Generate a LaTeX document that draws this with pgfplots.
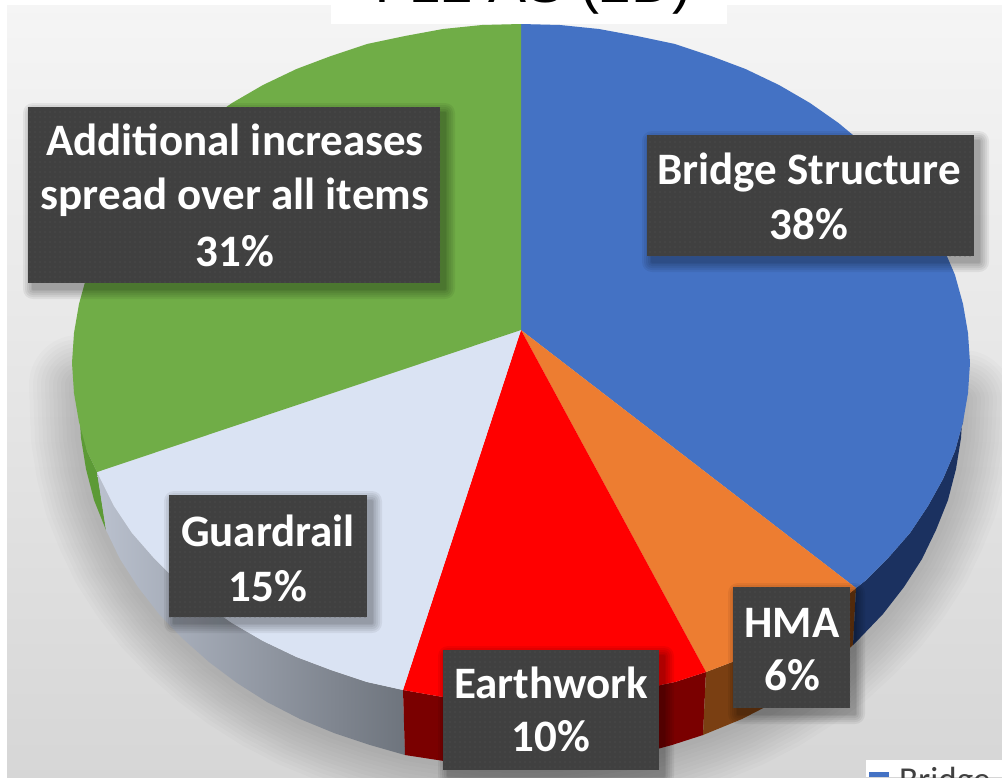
\documentclass[border=0pt]{standalone}
\usepackage{fontspec}
\setmainfont{Carlito}
\newfontfamily\titlefont{Liberation Sans}
\usepackage{pgfplots}
\pgfplotsset{compat=1.18}
\usetikzlibrary{patterns.meta}

\definecolor{pieblue}{HTML}{4472C4}
\definecolor{pieorange}{HTML}{ED7D31}
\definecolor{piered}{HTML}{FF0000}
\definecolor{pieguard}{HTML}{DAE3F3}
\definecolor{piegreen}{HTML}{70AD47}
\definecolor{sideblue}{HTML}{1B3160}
\definecolor{sideorange}{HTML}{7A3F12}
\definecolor{sidered}{HTML}{7A0000}
\definecolor{sidegreen}{HTML}{5C9A36}
\definecolor{boxgrey}{HTML}{404040}
\definecolor{dotgrey}{HTML}{555555}
\definecolor{wallleft}{HTML}{BAC1CE}
\definecolor{wallright}{HTML}{6E747D}

% Lower rim of the disc, used for the soft cast shadow
\pgfplotstableread{
x y
963 400
961 438
956 469
948 500
936 530
922 559
904 587
883 614
860 638
834 662
805 683
775 702
742 719
708 733
672 745
635 755
598 761
559 766
521 767
483 766
444 761
407 755
370 745
334 733
300 719
267 702
237 683
209 662
182 638
159 614
138 587
120 559
106 530
94 500
86 469
81 438
79 385
}\rimtable

% One layer of a label box's drop shadow, grown by #5 on every side
\newcommand{\shadowlayer}[5]{%
  \fill[black,opacity=.06,rounded corners=#5pt]
      (axis cs:{#1-#5+5},{#2-#5+6}) rectangle (axis cs:{#3+#5+5},{#4+#5+6});
}
% Label box: shadow, fill and dots
\newcommand{\labelbox}[4]{%
  \shadowlayer{#1}{#2}{#3}{#4}{10}
  \shadowlayer{#1}{#2}{#3}{#4}{8}
  \shadowlayer{#1}{#2}{#3}{#4}{6}
  \shadowlayer{#1}{#2}{#3}{#4}{4}
  \shadowlayer{#1}{#2}{#3}{#4}{2}
  \shadowlayer{#1}{#2}{#3}{#4}{1}
  \fill[boxgrey] (axis cs:#1,#2) rectangle (axis cs:#3,#4);
  \fill[pattern={Dots[distance=5pt,radius=.7pt]},pattern color=dotgrey]
      (axis cs:#1,#2) rectangle (axis cs:#3,#4);
}
\newcommand{\labeltext}[3]{%
  \node[anchor=base,text=white,inner sep=0pt,font=\fontsize{45}{45}\selectfont\bfseries]
    at (axis cs:#1,#2) {#3};
}

\begin{document}
\begin{tikzpicture}
\begin{axis}[
  scale only axis,
  width=1002pt,height=777pt,
  xmin=0,xmax=1002,ymin=0,ymax=777,
  y dir=reverse,
  hide axis,
  clip=true,
]
% Backdrop
\addplot[draw=none,top color=black!4,bottom color=black!16,forget plot]
  coordinates {(7,5) (1002,5) (1002,777) (7,777)} --cycle;

% Title strip
\addplot[draw=none,fill=white,forget plot]
  coordinates {(331,0) (727,0) (727,24) (331,24)} --cycle;
\node[anchor=base,inner sep=0pt,font=\titlefont\fontsize{57}{57}\selectfont,text=black]
  at (axis cs:533,2) {I-12 AS (2D)};

% Cast shadow
\pgfplotsinvokeforeach{100,92,84,76,68,60,52,44,36,28,20,12}{
  \addplot[black,opacity=.016,line width=#1pt,line cap=round,line join=round,forget plot]
    table[x=x,y=y] {\rimtable};
}

% Disc wall
\addplot[draw=none,fill=sidegreen,forget plot] coordinates {
  (106,530) (94,500) (86,469) (81,438) (79,407) (76,395) (87,451) (97,472)} --cycle;
\addplot[draw=none,left color=wallleft,right color=wallright,forget plot] coordinates {
  (97,472) (114,506) (132,533) (153,557) (177,581) (203.5,603) (232,623) (263,641) (296.5,657) (331,670) (367,682) (403,690)
  (405,755) (370,745) (334,733) (300,719) (267,702) (237,683) (209,662) (182,638) (159,614) (138,587) (120,559) (106,530)} --cycle;
\addplot[draw=none,fill=sidered,forget plot] coordinates {
  (403,690) (443,697) (482,701) (521,702) (560,701) (599,697) (637,690) (675,682) (706,672)
  (703,735) (672,745) (635,755) (598,761) (559,766) (521,767) (483,766) (444,761) (405,755)} --cycle;
\addplot[draw=none,fill=sideorange,forget plot] coordinates {
  (706,672) (745.5,657) (779,641) (810,623) (838.5,603) (856,588)
  (853,645) (834,662) (805,683) (775,702) (742,719) (703,735)} --cycle;
\addplot[draw=none,fill=sideblue,forget plot] coordinates {
  (856,588) (865,581) (889,557) (910,533) (928,506) (943,479) (955,451) (963,422) (963,407)
  (961,438) (956,469) (948,500) (936,530) (922,559) (904,587) (883,614) (860,638) (853,645)} --cycle;

% Disc top: Bridge Structure
\addplot[draw=none,fill=pieblue,forget plot] coordinates {
  (521,330) (521,24) (560,25) (599,29) (637,36) (675,44) (711,56) (745.5,69) (779,85) (810,103) (838.5,123)
  (865,145) (889,169) (910,193) (928,220) (943,247) (955,275) (963,304) (968,333) (970,363) (968,393)
  (963,422) (955,451) (943,479) (928,506) (910,533) (889,557) (865,581) (856,588)} --cycle;
% HMA
\addplot[draw=none,fill=pieorange,forget plot] coordinates {
  (521,330) (856,588) (838.5,603) (810,623) (779,641) (745.5,657) (706,672)} --cycle;
% Earthwork
\addplot[draw=none,fill=piered,forget plot] coordinates {
  (521,330) (706,672) (675,682) (637,690) (599,697) (560,701) (521,702) (482,701) (443,697) (403,690)} --cycle;
% Guardrail
\addplot[draw=none,fill=pieguard,forget plot] coordinates {
  (521,330) (403,690) (367,682) (331,670) (296.5,657) (263,641) (232,623) (203.5,603) (177,581) (153,557) (132,533) (114,506) (97,472)} --cycle;
% Additional increases spread over all items
\addplot[draw=none,fill=piegreen,forget plot] coordinates {
  (521,330) (97,472) (87,451) (79,422) (74,393) (72,363) (74,333) (79,304) (87,275) (99,247) (114,220) (132,193) (153,169)
  (177,145) (203.5,123) (232,103) (263,85) (296.5,69) (331,56) (367,44) (405,36) (443,29) (482,25) (521,24)} --cycle;

% Legend, cut by the lower edge
\addplot[draw=none,fill=white,forget plot]
  coordinates {(866,760) (1002,760) (1002,777) (866,777)} --cycle;
\addplot[draw=none,fill=pieblue,forget plot]
  coordinates {(869,772) (889,772) (889,777) (869,777)} --cycle;
\node[anchor=base west,inner sep=0pt,font=\fontsize{35}{35}\selectfont,text=black!75]
  at (axis cs:899,791) {Bridge};

% Data labels
\labelbox{28}{107}{440}{283}
\labeltext{235}{155.5}{Additional increases}
\labeltext{235}{209}{spread over all items}
\labeltext{235}{266}{31\%}
\labelbox{647}{135}{974}{256}
\labeltext{809}{184}{Bridge Structure}
\labeltext{809}{239}{38\%}
\labelbox{169}{495}{367}{617}
\labeltext{268}{546}{Guardrail}
\labeltext{268}{601}{15\%}
\labelbox{733}{587}{850}{708}
\labeltext{792}{637}{HMA}
\labeltext{792}{690}{6\%}
\labelbox{443}{650}{659}{770}
\labeltext{551}{698}{Earthwork}
\labeltext{551}{751}{10\%}
\end{axis}
\pgfresetboundingbox
\path[use as bounding box] (current axis.south west) rectangle (current axis.north east);
\end{tikzpicture}
\end{document}
